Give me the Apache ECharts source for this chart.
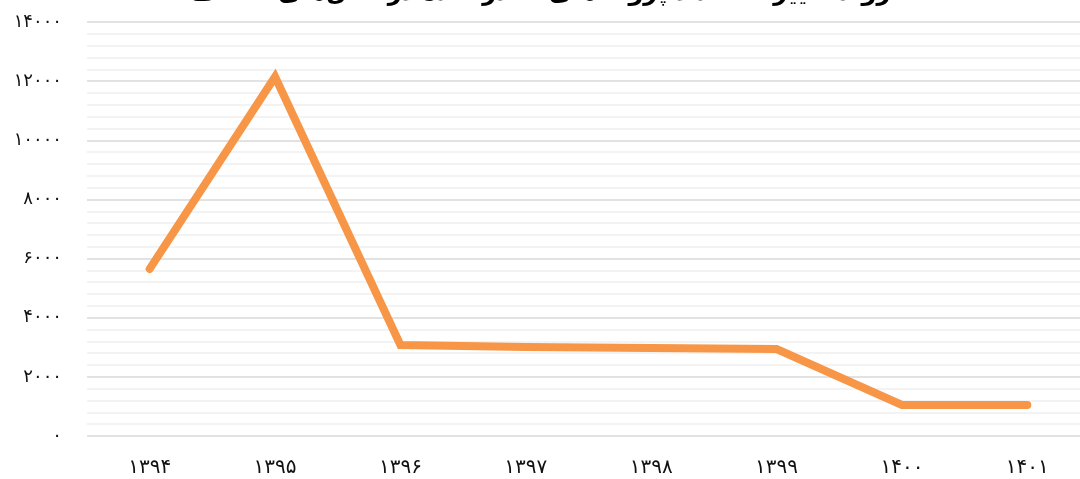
<!DOCTYPE html>
<html><head><meta charset="utf-8">
<script src="https://cdn.jsdelivr.net/npm/echarts@6/dist/echarts.min.js"></script>
<style>html,body{margin:0;padding:0;background:#fff}#c{width:1080px;height:479px}</style>
</head><body><div id="c"></div>
<script>
const categories = ['1394','1395','1396','1397','1398','1399','1400','1401'];
const values = [5650, 12150, 3080, 3010, 2975, 2940, 1050, 1050];
const yTicks = [0, 2000, 4000, 6000, 8000, 10000, 12000, 14000];
const titleText = 'روند تغییرات تعداد پروانه‌های صادر شده در سال‌های مختلف';

function fa(s){ return String(s).replace(/[0-9]/g, d => '۰۱۲۳۴۵۶۷۸۹'[+d]); }

const chart = echarts.init(document.getElementById('c'));
chart.setOption({
  animation:false,
  title:{ text:titleText, left:'center', top:-23,
    textStyle:{ fontFamily:'DejaVu Sans', fontSize:24, fontWeight:'bold', color:'#000' } },
  grid:{ left:87, width:1003, top:22, bottom:43, outerBoundsMode:'none', containLabel:false },
  xAxis:{ type:'category', data:categories, boundaryGap:true,
    axisLine:{show:false}, axisTick:{show:false},
    axisLabel:{ formatter:v=>fa(v), color:'#111', fontSize:20, fontFamily:'DejaVu Sans', margin:22 } },
  yAxis:{ type:'value', min:yTicks[0], max:yTicks[yTicks.length-1], interval:2000,
    axisLine:{show:false}, axisTick:{show:false},
    axisLabel:{ formatter:v=>fa(v), color:'#111', fontSize:18, fontFamily:'DejaVu Sans', margin:25 },
    splitLine:{ lineStyle:{ color:'#d9d9d9', width:1.5 } },
    minorTick:{ show:false, splitNumber:5 },
    minorSplitLine:{ show:true, lineStyle:{ color:'#f0f0f0', width:1.5 } } },
  series:[{ type:'line', data:values, symbol:'none',
    lineStyle:{ color:'#F79646', width:8, cap:'round', join:'miter' } }]
});
</script></body></html>
